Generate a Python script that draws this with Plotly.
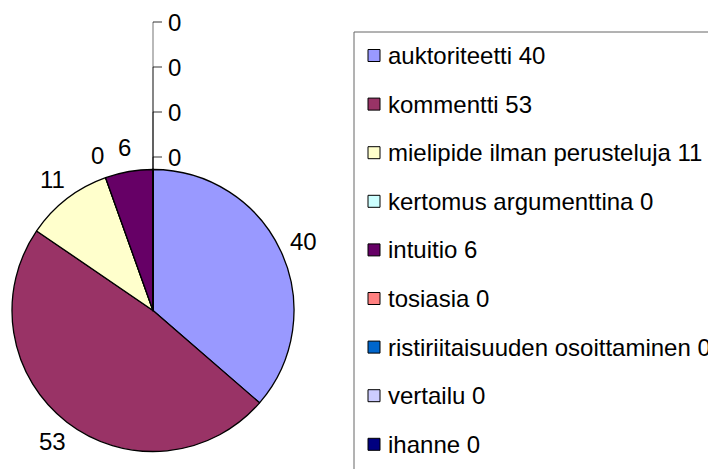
import math
import plotly.graph_objects as go

kategoriat = ['auktoriteetti', 'kommentti', 'mielipide ilman perusteluja', 'kertomus argumenttina',
              'intuitio', 'tosiasia', 'ristiriitaisuuden osoittaminen', 'vertailu', 'ihanne']
arvot = [40, 53, 11, 0, 6, 0, 0, 0, 0]
varit = ['#9999FF', '#993366', '#FFFFCC', '#CCFFFF', '#660066', '#FF8080', '#0066CC', '#CCCCFF', '#000080']

W, H = 708, 469
cx, cy, r = 153, 310.5, 141
fontti = dict(family='Liberation Sans, Arial', size=24, color='black')

fig = go.Figure()
fig.add_trace(go.Pie(
    labels=kategoriat,
    values=arvot,
    marker=dict(colors=varit, line=dict(color='black', width=1.3)),
    sort=False,
    direction='clockwise',
    rotation=0,
    textinfo='none',
    hoverinfo='label+value',
    showlegend=False,
    domain=dict(x=[(cx - r) / W, (cx + r) / W], y=[1 - (cy + r) / H, 1 - (cy - r) / H])))

# apuakseli pikselikoordinaateille
fig.add_trace(go.Scatter(x=[0, W], y=[0, H], mode='markers', marker=dict(opacity=0),
                         hoverinfo='skip', showlegend=False))

annotations = []
shapes = []

# datalabelit
total = sum(arvot)
kum = 0
pinossa = []
for nimi, a in zip(kategoriat, arvot):
    if a == 0 and kum == total:
        pinossa.append(a)
        continue
    kulma = math.radians((kum + a / 2) / total * 360)
    lx = cx + 165 * math.sin(kulma)
    ly = cy - 165 * math.cos(kulma)
    annotations.append(dict(x=lx, y=ly, xref='x', yref='y', text=str(a), showarrow=False,
                            xanchor='center', yanchor='middle', font=fontti))
    kum += a

# nollat pinoon ylös johtoviivoineen
for i, a in enumerate(pinossa):
    ly = cy - r - 12.5 - 45 * i
    shapes.append(dict(type='line', xref='x', yref='y', x0=cx, x1=cx, y0=cy - r, y1=ly,
                       line=dict(color='rgba(0,0,0,0.55)', width=1)))
    shapes.append(dict(type='line', xref='x', yref='y', x0=cx, x1=cx + 9, y0=ly, y1=ly,
                       line=dict(color='rgba(0,0,0,0.8)', width=1)))
    annotations.append(dict(x=cx + 13, y=ly, xref='x', yref='y', text=str(a), showarrow=False,
                            xanchor='left', yanchor='middle', font=fontti))

# selite
shapes.append(dict(type='rect', xref='x', yref='y', x0=354, x1=730, y0=32, y1=490,
                   line=dict(color='#666666', width=1), fillcolor='rgba(0,0,0,0)'))
for i, (nimi, a, v) in enumerate(zip(kategoriat, arvot, varit)):
    yy = 55.5 + 48.6 * i
    shapes.append(dict(type='rect', xref='x', yref='y', x0=368, x1=380, y0=yy - 6, y1=yy + 6,
                       line=dict(color='black', width=1), fillcolor=v))
    annotations.append(dict(x=386, y=yy, xref='x', yref='y', text=f'{nimi} {a}', showarrow=False,
                            xanchor='left', yanchor='middle', font=fontti))

fig.update_layout(
    width=W, height=H,
    margin=dict(l=0, r=0, t=0, b=0),
    paper_bgcolor='white', plot_bgcolor='rgba(0,0,0,0)',
    xaxis=dict(range=[0, W], visible=False, domain=[0, 1], fixedrange=True),
    yaxis=dict(range=[H, 0], visible=False, domain=[0, 1], fixedrange=True),
    annotations=annotations,
    shapes=shapes)

fig.write_html("out.html", config={'displayModeBar': False},
               post_script="document.body.style.margin='0';document.body.style.overflow='hidden';")
